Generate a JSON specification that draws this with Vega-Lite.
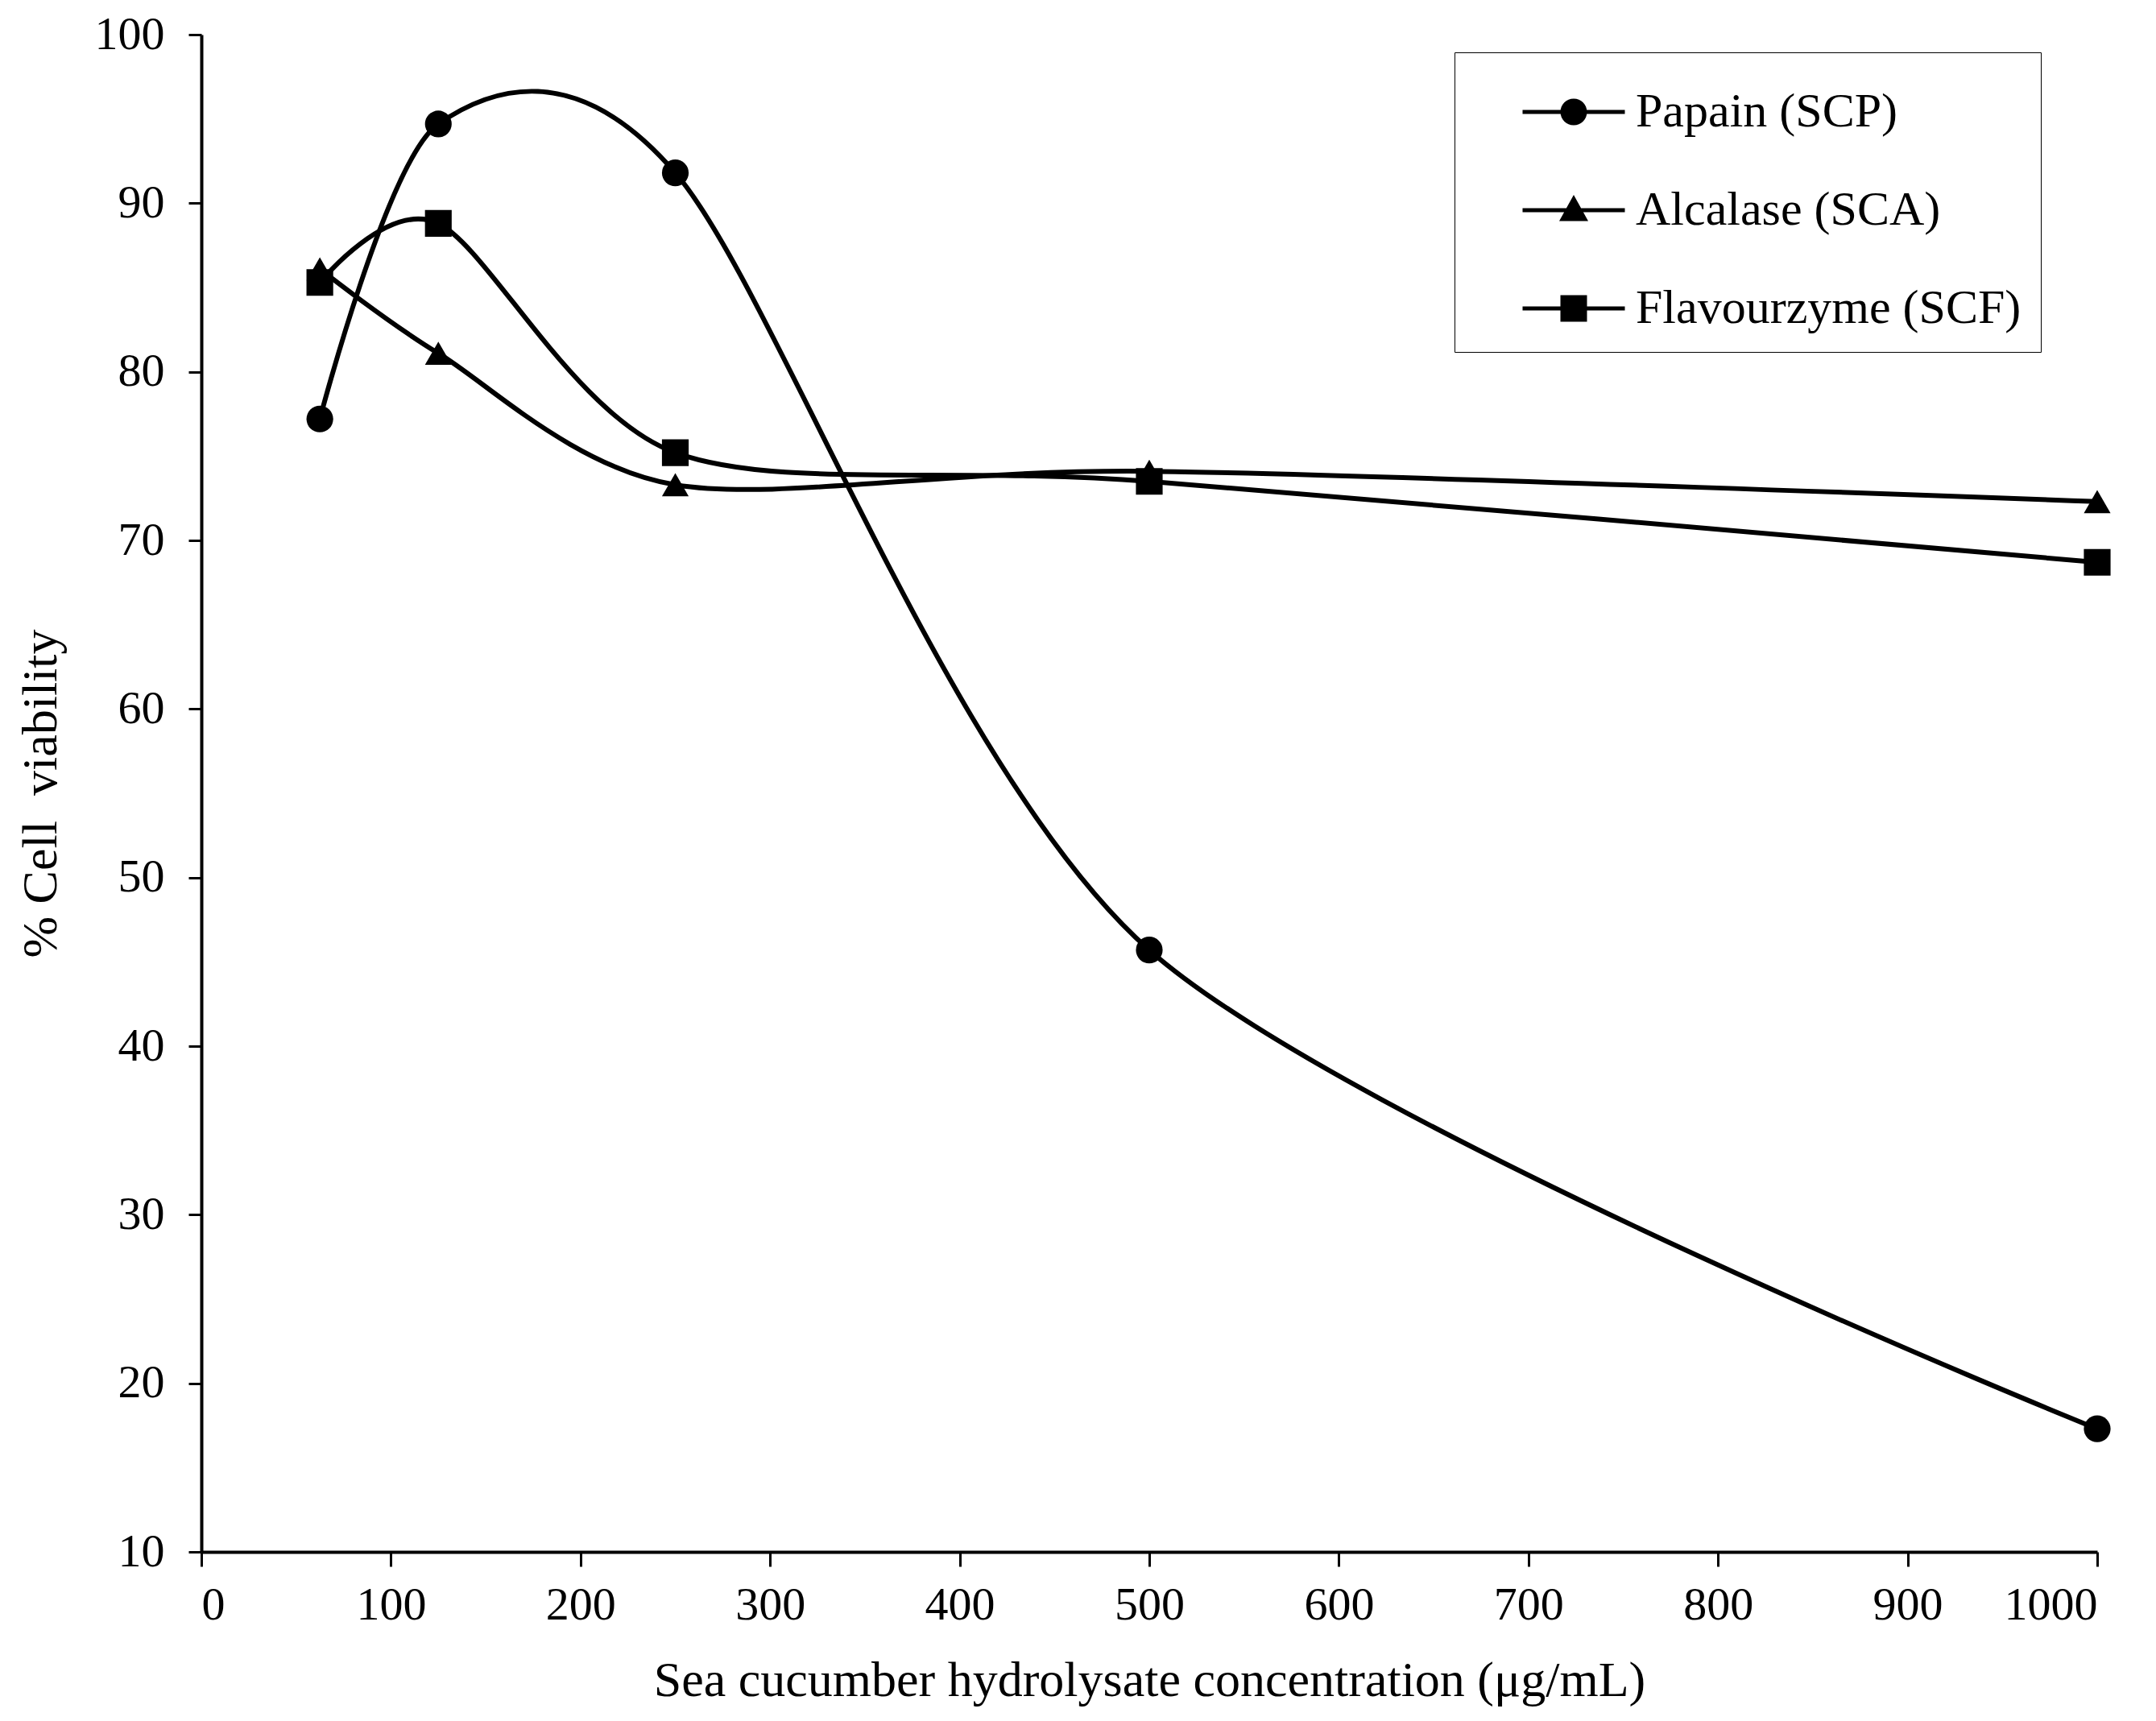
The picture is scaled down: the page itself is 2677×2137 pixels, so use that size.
{
  "$schema": "https://vega.github.io/schema/vega-lite/v6.json",
  "width": 2354,
  "height": 1884,
  "autosize": {"type": "none"},
  "padding": {"left": 250, "top": 43, "right": 73, "bottom": 210},
  "background": "white",
  "config": {
    "font": "Liberation Serif",
    "view": {"stroke": null},
    "axis": {
      "grid": false,
      "domainColor": "black",
      "domainWidth": 4,
      "tickColor": "black",
      "tickWidth": 3,
      "tickSize": 18,
      "labelFont": "Liberation Serif",
      "labelFontSize": 58,
      "labelColor": "black",
      "titleFont": "Liberation Serif",
      "titleFontSize": 62,
      "titleFontWeight": "normal",
      "titleColor": "black"
    }
  },
  "data": {
    "values": [
      {"enzyme": "Papain (SCP)", "conc": 62.5, "viability": 77.2},
      {"enzyme": "Papain (SCP)", "conc": 125, "viability": 94.7},
      {"enzyme": "Papain (SCP)", "conc": 250, "viability": 91.8},
      {"enzyme": "Papain (SCP)", "conc": 500, "viability": 45.7},
      {"enzyme": "Papain (SCP)", "conc": 1000, "viability": 17.3},
      {"enzyme": "Alcalase (SCA)", "conc": 62.5, "viability": 86.1},
      {"enzyme": "Alcalase (SCA)", "conc": 125, "viability": 81.1},
      {"enzyme": "Alcalase (SCA)", "conc": 250, "viability": 73.3},
      {"enzyme": "Alcalase (SCA)", "conc": 500, "viability": 74.1},
      {"enzyme": "Alcalase (SCA)", "conc": 1000, "viability": 72.3},
      {"enzyme": "Flavourzyme (SCF)", "conc": 62.5, "viability": 85.3},
      {"enzyme": "Flavourzyme (SCF)", "conc": 125, "viability": 88.8},
      {"enzyme": "Flavourzyme (SCF)", "conc": 250, "viability": 75.2},
      {"enzyme": "Flavourzyme (SCF)", "conc": 500, "viability": 73.5},
      {"enzyme": "Flavourzyme (SCF)", "conc": 1000, "viability": 68.7}
    ]
  },
  "encoding": {
    "x": {
      "field": "conc",
      "type": "quantitative",
      "scale": {"domain": [0, 1000], "nice": false, "zero": false},
      "axis": {
        "values": [0, 100, 200, 300, 400, 500, 600, 700, 800, 900, 1000],
        "format": "d",
        "labelPadding": 19,
        "titlePadding": 34,
        "title": "Sea cucumber hydrolysate concentration (μg/mL)"
      }
    },
    "y": {
      "field": "viability",
      "type": "quantitative",
      "scale": {"domain": [10, 100], "nice": false, "zero": false},
      "axis": {
        "values": [10, 20, 30, 40, 50, 60, 70, 80, 90, 100],
        "tickSize": 16,
        "labelPadding": 30,
        "titlePadding": 35,
        "title": "% Cell\u00a0 viability"
      }
    }
  },
  "layer": [
    {
      "mark": {"type": "line", "interpolate": "cardinal", "tension": 0.15, "color": "black", "strokeWidth": 6},
      "encoding": {
        "detail": {"field": "enzyme"},
        "order": {"field": "conc"}
      }
    },
    {
      "mark": {"type": "point", "filled": true, "color": "black", "opacity": 1, "size": 1100},
      "encoding": {
        "shape": {
          "field": "enzyme",
          "type": "nominal",
          "scale": {
            "domain": ["Papain (SCP)", "Alcalase (SCA)", "Flavourzyme (SCF)"],
            "range": ["circle", "triangle-up", "square"]
          },
          "legend": null
        }
      }
    },
    {
      "transform": [{"filter": "datum.conc < 0"}],
      "mark": {"type": "point", "filled": true, "color": "black", "opacity": 1},
      "encoding": {
        "shape": {
          "field": "enzyme",
          "type": "nominal",
          "scale": {
            "domain": ["Papain (SCP)", "Alcalase (SCA)", "Flavourzyme (SCF)"],
            "range": [
              "M -1.27 -0.05 L 1.27 -0.05 L 1.27 0.05 L -1.27 0.05 Z M -0.33 0 A 0.33 0.33 0 1 1 0.33 0 A 0.33 0.33 0 1 1 -0.33 0 Z",
              "M -1.27 -0.05 L 1.27 -0.05 L 1.27 0.05 L -1.27 0.05 Z M 0 -0.38 L 0.36 0.27 L -0.36 0.27 Z",
              "M -1.27 -0.05 L 1.27 -0.05 L 1.27 0.05 L -1.27 0.05 Z M -0.33 -0.33 L 0.33 -0.33 L 0.33 0.33 L -0.33 0.33 Z"
            ]
          },
          "legend": {
            "title": null,
            "orient": "none",
            "legendX": 1556,
            "legendY": 22,
            "padding": 24,
            "strokeColor": "black",
            "fillColor": "white",
            "symbolSize": 10000,
            "symbolOffset": 74,
            "labelOffset": 27,
            "rowPadding": 42,
            "labelFont": "Liberation Serif",
            "labelFontSize": 60,
            "labelColor": "black",
            "labelLimit": 800,
            "symbolFillColor": "black",
            "symbolStrokeWidth": 0,
            "encode": {
              "legend": {
                "update": {
                  "strokeWidth": {"value": 3}
                }
              }
            }
          }
        }
      }
    }
  ],
  "resolve": {"scale": {"shape": "independent"}, "legend": {"shape": "independent"}}
}
